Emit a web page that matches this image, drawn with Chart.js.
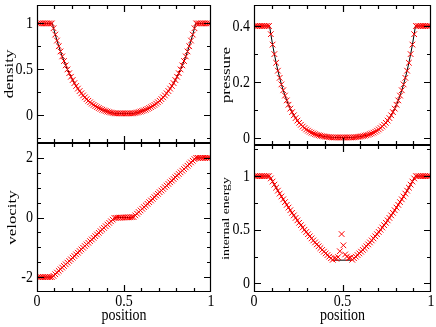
<!DOCTYPE html>
<html>
<head>
<meta charset="utf-8">
<script src="https://cdn.jsdelivr.net/npm/chart.js@4.4.1/dist/chart.umd.min.js"></script>
<style>
  html, body { margin: 0; padding: 0; background: #fff; }
  #wrap { position: relative; width: 436px; height: 327px; }
  #wrap canvas { position: absolute; left: 0; top: 0; }
</style>
</head>
<body>
<div id="wrap">
  <canvas id="c-density" width="436" height="327"></canvas>
  <canvas id="c-pressure" width="436" height="327"></canvas>
  <canvas id="c-velocity" width="436" height="327"></canvas>
  <canvas id="c-energy" width="436" height="327"></canvas>
</div>
<script>
// cell positions of the numerical solution (red crosses)
const posX = [
  0.005, 0.015, 0.025, 0.035, 0.045, 0.055, 0.065, 0.075, 0.085, 0.095,
  0.105, 0.115, 0.125, 0.135, 0.145, 0.155, 0.165, 0.175, 0.185, 0.195,
  0.205, 0.215, 0.225, 0.235, 0.245, 0.255, 0.265, 0.275, 0.285, 0.295,
  0.305, 0.315, 0.325, 0.335, 0.345, 0.355, 0.365, 0.375, 0.385, 0.395,
  0.405, 0.415, 0.425, 0.435, 0.445, 0.455, 0.465, 0.475, 0.485, 0.495,
  0.505, 0.515, 0.525, 0.535, 0.545, 0.555, 0.565, 0.575, 0.585, 0.595,
  0.605, 0.615, 0.625, 0.635, 0.645, 0.655, 0.665, 0.675, 0.685, 0.695,
  0.705, 0.715, 0.725, 0.735, 0.745, 0.755, 0.765, 0.775, 0.785, 0.795,
  0.805, 0.815, 0.825, 0.835, 0.845, 0.855, 0.865, 0.875, 0.885, 0.895,
  0.905, 0.915, 0.925, 0.935, 0.945, 0.955, 0.965, 0.975, 0.985, 0.995
];

const densityPts = [
  1, 1, 1, 1, 1, 1, 1, 1, 1, 0.9473,
  0.8784, 0.8134, 0.7524, 0.6951, 0.6414, 0.5910, 0.5438, 0.4997, 0.4585, 0.4201,
  0.3843, 0.3510, 0.3200, 0.2912, 0.2646, 0.2400, 0.2172, 0.1962, 0.1768, 0.1590,
  0.1427, 0.1277, 0.1140, 0.1015, 0.0902, 0.0799, 0.0705, 0.0620, 0.0544, 0.0476,
  0.0414, 0.0359, 0.0310, 0.0267, 0.0228, 0.0218, 0.0218, 0.0218, 0.0218, 0.0218,
  0.0218, 0.0218, 0.0218, 0.0218, 0.0218, 0.0228, 0.0267, 0.0310, 0.0359, 0.0414,
  0.0476, 0.0544, 0.0620, 0.0705, 0.0799, 0.0902, 0.1015, 0.1140, 0.1277, 0.1427,
  0.1590, 0.1768, 0.1962, 0.2172, 0.2400, 0.2646, 0.2912, 0.3200, 0.3510, 0.3843,
  0.4201, 0.4585, 0.4997, 0.5438, 0.5910, 0.6414, 0.6951, 0.7524, 0.8134, 0.8784,
  0.9473, 1, 1, 1, 1, 1, 1, 1, 1, 1
];

const pressurePts = [
  0.4, 0.4, 0.4, 0.4, 0.4, 0.4, 0.4, 0.4, 0.4, 0.3708,
  0.3336, 0.2996, 0.2686, 0.2404, 0.2148, 0.1915, 0.1705, 0.1515, 0.1343, 0.1188,
  0.1049, 0.0924, 0.0811, 0.0711, 0.0622, 0.0542, 0.0472, 0.0409, 0.0354, 0.0305,
  0.0262, 0.0224, 0.0191, 0.0163, 0.0138, 0.0116, 0.0098, 0.0082, 0.0068, 0.0056,
  0.0046, 0.0038, 0.0031, 0.0025, 0.0020, 0.0019, 0.0019, 0.0019, 0.0019, 0.0019,
  0.0019, 0.0019, 0.0019, 0.0019, 0.0019, 0.0020, 0.0025, 0.0031, 0.0038, 0.0046,
  0.0056, 0.0068, 0.0082, 0.0098, 0.0116, 0.0138, 0.0163, 0.0191, 0.0224, 0.0262,
  0.0305, 0.0354, 0.0409, 0.0472, 0.0542, 0.0622, 0.0711, 0.0811, 0.0924, 0.1049,
  0.1188, 0.1343, 0.1515, 0.1705, 0.1915, 0.2148, 0.2404, 0.2686, 0.2996, 0.3336,
  0.3708, 0.4, 0.4, 0.4, 0.4, 0.4, 0.4, 0.4, 0.4, 0.4
];

const velocityPts = [
  -2, -2, -2, -2, -2, -2, -2, -2, -2, -1.9597,
  -1.9042, -1.8486, -1.7931, -1.7375, -1.6820, -1.6264, -1.5708, -1.5153, -1.4597, -1.4042,
  -1.3486, -1.2931, -1.2375, -1.1819, -1.1264, -1.0708, -1.0153, -0.9597, -0.9042, -0.8486,
  -0.7931, -0.7375, -0.6819, -0.6264, -0.5708, -0.5153, -0.4597, -0.4042, -0.3486, -0.2931,
  -0.2375, -0.1819, -0.1264, -0.0708, -0.0153, -0.012, -0.008, -0.005, -0.003, -0.001,
  0.001, 0.003, 0.005, 0.008, 0.012, 0.0153, 0.0708, 0.1264, 0.1819, 0.2375,
  0.2931, 0.3486, 0.4042, 0.4597, 0.5153, 0.5708, 0.6264, 0.6819, 0.7375, 0.7931,
  0.8486, 0.9042, 0.9597, 1.0153, 1.0708, 1.1264, 1.1819, 1.2375, 1.2931, 1.3486,
  1.4042, 1.4597, 1.5153, 1.5708, 1.6264, 1.6820, 1.7375, 1.7931, 1.8486, 1.9042,
  1.9597, 2, 2, 2, 2, 2, 2, 2, 2, 2
];

const energyPts = [
  1, 1, 1, 1, 1, 1, 1, 1, 1, 0.9786,
  0.9494, 0.9207, 0.8924, 0.8646, 0.8372, 0.8103, 0.7838, 0.7577, 0.7321, 0.7069,
  0.6821, 0.6578, 0.6340, 0.6105, 0.5876, 0.5650, 0.5429, 0.5212, 0.5000, 0.4793,
  0.4589, 0.4390, 0.4196, 0.4006, 0.3820, 0.3638, 0.3461, 0.3289, 0.3121, 0.2957,
  0.2798, 0.2643, 0.2493, 0.2347, 0.2205, 0.235, 0.23, 0.245, 0.30, 0.46,
  0.355, 0.27, 0.25, 0.235, 0.24, 0.2205, 0.2347, 0.2493, 0.2643, 0.2798,
  0.2957, 0.3121, 0.3289, 0.3461, 0.3638, 0.3820, 0.4006, 0.4196, 0.4390, 0.4589,
  0.4793, 0.5000, 0.5212, 0.5429, 0.5650, 0.5876, 0.6105, 0.6340, 0.6578, 0.6821,
  0.7069, 0.7321, 0.7577, 0.7838, 0.8103, 0.8372, 0.8646, 0.8924, 0.9207, 0.9494,
  0.9786, 1, 1, 1, 1, 1, 1, 1, 1, 1
];

// exact solution (black line)
const lineX = [
  0, 0.088, 0.095, 0.105, 0.115, 0.125, 0.135, 0.145, 0.155, 0.165,
  0.175, 0.185, 0.195, 0.205, 0.215, 0.225, 0.235, 0.245, 0.255, 0.265,
  0.275, 0.285, 0.295, 0.305, 0.315, 0.325, 0.335, 0.345, 0.355, 0.365,
  0.375, 0.385, 0.395, 0.405, 0.415, 0.425, 0.435, 0.445, 0.448, 0.552,
  0.555, 0.565, 0.575, 0.585, 0.595, 0.605, 0.615, 0.625, 0.635, 0.645,
  0.655, 0.665, 0.675, 0.685, 0.695, 0.705, 0.715, 0.725, 0.735, 0.745,
  0.755, 0.765, 0.775, 0.785, 0.795, 0.805, 0.815, 0.825, 0.835, 0.845,
  0.855, 0.865, 0.875, 0.885, 0.895, 0.905, 0.912, 1
];

const densityLine = [
  1, 1, 0.9473, 0.8784, 0.8134, 0.7524, 0.6951, 0.6414, 0.5910, 0.5438,
  0.4997, 0.4585, 0.4201, 0.3843, 0.3510, 0.3200, 0.2912, 0.2646, 0.2400, 0.2172,
  0.1962, 0.1768, 0.1590, 0.1427, 0.1277, 0.1140, 0.1015, 0.0902, 0.0799, 0.0705,
  0.0620, 0.0544, 0.0476, 0.0414, 0.0359, 0.0310, 0.0267, 0.0228, 0.0218, 0.0218,
  0.0228, 0.0267, 0.0310, 0.0359, 0.0414, 0.0476, 0.0544, 0.0620, 0.0705, 0.0799,
  0.0902, 0.1015, 0.1140, 0.1277, 0.1427, 0.1590, 0.1768, 0.1962, 0.2172, 0.2400,
  0.2646, 0.2912, 0.3200, 0.3510, 0.3843, 0.4201, 0.4585, 0.4997, 0.5438, 0.5910,
  0.6414, 0.6951, 0.7524, 0.8134, 0.8784, 0.9473, 1, 1
];

const pressureLine = [
  0.4, 0.4, 0.3708, 0.3336, 0.2996, 0.2686, 0.2404, 0.2148, 0.1915, 0.1705,
  0.1515, 0.1343, 0.1188, 0.1049, 0.0924, 0.0811, 0.0711, 0.0622, 0.0542, 0.0472,
  0.0409, 0.0354, 0.0305, 0.0262, 0.0224, 0.0191, 0.0163, 0.0138, 0.0116, 0.0098,
  0.0082, 0.0068, 0.0056, 0.0046, 0.0038, 0.0031, 0.0025, 0.0020, 0.0019, 0.0019,
  0.0020, 0.0025, 0.0031, 0.0038, 0.0046, 0.0056, 0.0068, 0.0082, 0.0098, 0.0116,
  0.0138, 0.0163, 0.0191, 0.0224, 0.0262, 0.0305, 0.0354, 0.0409, 0.0472, 0.0542,
  0.0622, 0.0711, 0.0811, 0.0924, 0.1049, 0.1188, 0.1343, 0.1515, 0.1705, 0.1915,
  0.2148, 0.2404, 0.2686, 0.2996, 0.3336, 0.3708, 0.4, 0.4
];

const velocityLine = [
  -2, -2, -1.9597, -1.9042, -1.8486, -1.7931, -1.7375, -1.6820, -1.6264, -1.5708,
  -1.5153, -1.4597, -1.4042, -1.3486, -1.2931, -1.2375, -1.1819, -1.1264, -1.0708, -1.0153,
  -0.9597, -0.9042, -0.8486, -0.7931, -0.7375, -0.6819, -0.6264, -0.5708, -0.5153, -0.4597,
  -0.4042, -0.3486, -0.2931, -0.2375, -0.1819, -0.1264, -0.0708, -0.0153, 0, 0,
  0.0153, 0.0708, 0.1264, 0.1819, 0.2375, 0.2931, 0.3486, 0.4042, 0.4597, 0.5153,
  0.5708, 0.6264, 0.6819, 0.7375, 0.7931, 0.8486, 0.9042, 0.9597, 1.0153, 1.0708,
  1.1264, 1.1819, 1.2375, 1.2931, 1.3486, 1.4042, 1.4597, 1.5153, 1.5708, 1.6264,
  1.6820, 1.7375, 1.7931, 1.8486, 1.9042, 1.9597, 2, 2
];

const energyLine = [
  1, 1, 0.9786, 0.9494, 0.9207, 0.8924, 0.8646, 0.8372, 0.8103, 0.7838,
  0.7577, 0.7321, 0.7069, 0.6821, 0.6578, 0.6340, 0.6105, 0.5876, 0.5650, 0.5429,
  0.5212, 0.5000, 0.4793, 0.4589, 0.4390, 0.4196, 0.4006, 0.3820, 0.3638, 0.3461,
  0.3289, 0.3121, 0.2957, 0.2798, 0.2643, 0.2493, 0.2347, 0.2205, 0.2167, 0.2167,
  0.2205, 0.2347, 0.2493, 0.2643, 0.2798, 0.2957, 0.3121, 0.3289, 0.3461, 0.3638,
  0.3820, 0.4006, 0.4196, 0.4390, 0.4589, 0.4793, 0.5000, 0.5212, 0.5429, 0.5650,
  0.5876, 0.6105, 0.6340, 0.6578, 0.6821, 0.7069, 0.7321, 0.7577, 0.7838, 0.8103,
  0.8372, 0.8646, 0.8924, 0.9207, 0.9494, 0.9786, 1, 1
];

const W = 436, H = 327;
const STRETCH = 1.25;   // text in the picture is a bit taller than wide
const FONT = '"Liberation Serif", "Times New Roman", serif';

function drawText(ctx, s, x, y, size, align, rotate) {
  ctx.save();
  ctx.translate(x, y);
  ctx.scale(1, STRETCH);
  if (rotate) ctx.rotate(-Math.PI / 2);
  ctx.font = size + 'px ' + FONT;
  ctx.textAlign = align;
  ctx.textBaseline = 'middle';
  ctx.fillStyle = '#000';
  ctx.fillText(s, 0, 0);
  ctx.restore();
}

function tickValues(min, max, minor, major) {
  const out = [];
  for (let k = Math.ceil(min / minor - 1e-9); k * minor <= max + 1e-9; k++) {
    const v = k * minor;
    const r = v / major;
    out.push({ v, major: Math.abs(r - Math.round(r)) < 1e-6 });
  }
  return out;
}

const fmt = (v) => String(Math.round(v * 1000) / 1000);

// xmgrace style frame: box, inward ticks on all four sides, labels
const framePlugin = {
  id: 'frame',
  afterDraw(chart, args, o) {
    const { ctx, chartArea: a, scales: { x, y } } = chart;
    const L = Math.round(a.left), R = Math.round(a.right);
    const T = Math.round(a.top), B = Math.round(a.bottom);
    ctx.save();
    ctx.strokeStyle = '#000';
    ctx.lineWidth = 1.2;
    ctx.beginPath();
    ctx.rect(L + 0.5, T + 0.5, R - L - 1, B - T - 1);

    tickValues(x.min, x.max, o.xMinor, o.xMajor).forEach((t) => {
      const px = Math.round(x.getPixelForValue(t.v)) + 0.5;
      if (px <= L + 1 || px >= R - 1) return;
      const len = t.major ? 7 : 4;
      ctx.moveTo(px, B); ctx.lineTo(px, B - len);
      ctx.moveTo(px, T); ctx.lineTo(px, T + len);
    });
    tickValues(y.min, y.max, o.yMinor, o.yMajor).forEach((t) => {
      const py = Math.round(y.getPixelForValue(t.v)) + 0.5;
      if (py <= T + 1 || py >= B - 1) return;
      const len = t.major ? 7 : 4;
      ctx.moveTo(L, py); ctx.lineTo(L + len, py);
      ctx.moveTo(R, py); ctx.lineTo(R - len, py);
    });
    ctx.stroke();
    ctx.restore();

    tickValues(y.min, y.max, o.yMinor, o.yMajor).forEach((t) => {
      if (!t.major) return;
      drawText(ctx, fmt(t.v), L - 4, y.getPixelForValue(t.v), 14, 'right', false);
    });
    drawText(ctx, o.title, o.titleX, (T + B) / 2, o.titleSize, 'center', true);

    if (o.showX) {
      tickValues(x.min, x.max, o.xMinor, o.xMajor).forEach((t) => {
        if (!t.major) return;
        drawText(ctx, fmt(t.v), x.getPixelForValue(t.v), B + 9.5, 14, 'center', false);
      });
      drawText(ctx, 'position', (L + R) / 2, B + 23, 14, 'center', false);
    }
  }
};

function makePanel(id, box, yRange, yMajor, yMinor, title, titleSize, titleX, showX, lineY, markY) {
  new Chart(document.getElementById(id), {
    type: 'scatter',
    data: {
      datasets: [
        {
          data: posX.map((x, i) => ({ x, y: markY[i] })),
          showLine: false,
          pointStyle: 'crossRot',
          pointRadius: 4,
          pointBorderWidth: 1,
          borderColor: '#ff0000',
          backgroundColor: '#ff0000',
          order: 0
        },
        {
          data: lineX.map((x, i) => ({ x, y: lineY[i] })),
          showLine: true,
          borderColor: '#000',
          borderWidth: 1,
          pointRadius: 0,
          order: 1
        }
      ]
    },
    options: {
      responsive: false,
      animation: false,
      devicePixelRatio: 1,
      events: [],
      layout: { padding: { left: box[0], top: box[1], right: W - box[2], bottom: H - box[3] } },
      scales: {
        x: { type: 'linear', display: false, min: 0, max: 1 },
        y: { type: 'linear', display: false, min: yRange[0], max: yRange[1] }
      },
      plugins: {
        legend: { display: false },
        tooltip: { enabled: false },
        frame: { xMajor: 0.5, xMinor: 0.1, yMajor, yMinor, title, titleSize, titleX, showX }
      }
    },
    plugins: [framePlugin]
  });
}

makePanel('c-density', [37, 1, 211, 143], [-0.3, 1.2], 0.5, 0.25, 'density', 13.5, 9.5, false, densityLine, densityPts);
makePanel('c-pressure', [254, 1, 432, 145], [-0.025, 0.475], 0.2, 0.1, 'pressure', 13.5, 226.5, false, pressureLine, pressurePts);
makePanel('c-velocity', [37, 143, 211, 292], [-2.5, 2.5], 2, 0.5, 'velocity', 13.5, 12.5, true, velocityLine, velocityPts);
makePanel('c-energy', [254, 145, 432, 292], [-0.08, 1.29], 0.5, 0.25, 'internal energy', 11, 226, true, energyLine, energyPts);
</script>
</body>
</html>
